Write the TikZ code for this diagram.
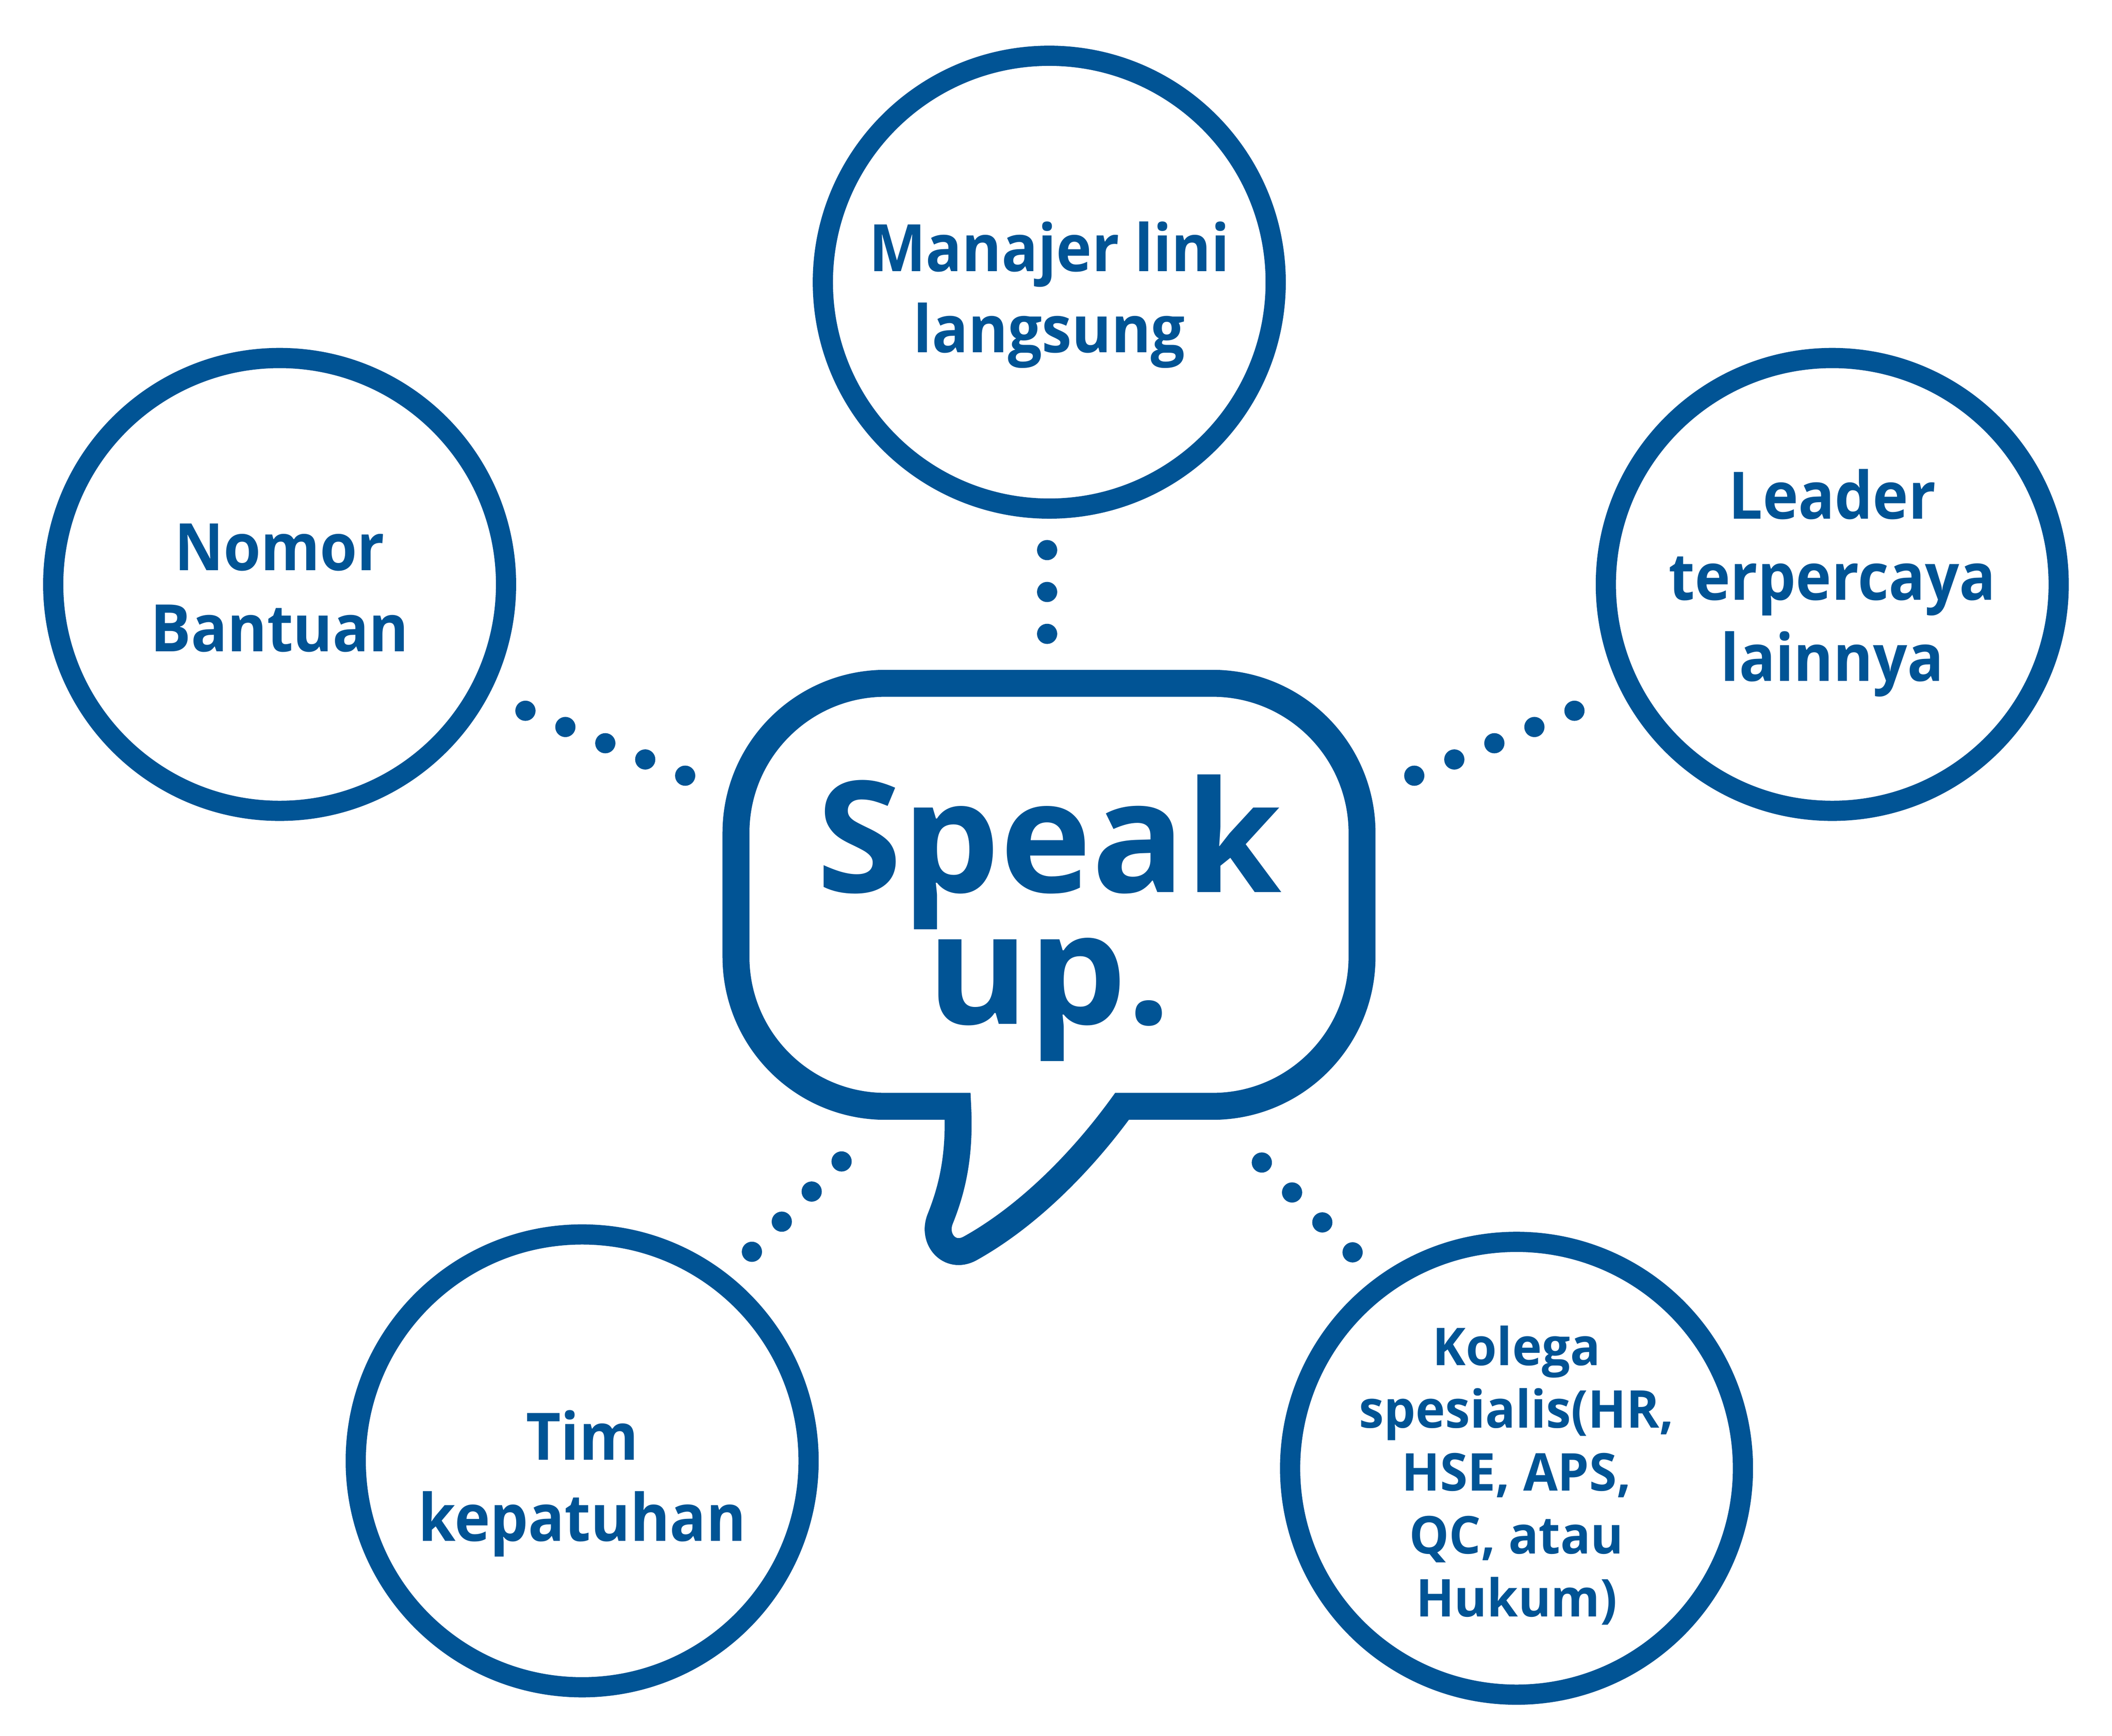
\documentclass[tikz,border=0pt]{standalone}
\usepackage{fontspec}
\setmainfont{Open Sans}
\newfontfamily\lblfont{Open Sans}[FakeStretch=0.92]
\newfontfamily\smallfont{Open Sans}[FakeStretch=0.96]
\usetikzlibrary{positioning}
\definecolor{speakblue}{RGB}{1,84,149}

\tikzset{
  ring/.style={circle, draw=speakblue, line width=15pt, minimum size=336.2pt, inner sep=0pt},
  lbl/.style={text=speakblue, align=center, inner sep=0pt,
    font=\lblfont\bfseries\fontsize{48.6}{60.2}\selectfont},
  dotrun/.style={draw=speakblue, line width=15pt, line cap=round,
    dash pattern=on 0pt off #1, shorten >=-2pt},
}

\begin{document}
\begin{tikzpicture}[x=1pt, y=-1pt]
\useasboundingbox (0,0) rectangle (1568,1288.8);

% the five contacts
\node[ring] (line) at (779,209.5) {};
\node[ring] (help) at (207.6,433.9) {};
\node[ring] (lead) at (1360.3,433.9) {};
\node[ring] (comp) at (432.2,1084.6) {};
\node[ring] (spec) at (1125.9,1090.1) {};

\node[lbl] (line-t) at ([yshift=-9.4pt]line) {Manajer lini\\langsung};
\node[lbl] (help-t) at ([yshift=-2.7pt]help) {Nomor\\Bantuan};
\node[lbl] (lead-t) at ([yshift=1pt]lead) {Leader\\terpercaya\\lainnya};
\node[lbl] (comp-t) at ([yshift=-16.8pt]comp) {Tim\\kepatuhan};
\node[lbl, font=\smallfont\bfseries\fontsize{38.7}{46.7}\selectfont] (spec-t) at ([yshift=-5.2pt]spec)
  {Kolega\\spesialis(HR,\\HSE, APS,\\QC, atau\\Hukum)};

% speech bubble
\draw[draw=speakblue, line width=20pt, fill=white]
  (546.4,618.3) arc[start angle=180, end angle=270, radius=111] -- (900.2,507.3)
  arc[start angle=270, end angle=360, radius=111] -- (1011.2,710.4)
  arc[start angle=0, end angle=90, radius=111] -- (833,821.4)
  .. controls (805,860) and (765,902) .. (720,927)
  .. controls (705,935) and (692,920) .. (698,905)
  .. controls (706,885) and (713,860) .. (711,821.4) -- (657.4,821.4)
  arc[start angle=90, end angle=180, radius=111] -- cycle;
\node[text=speakblue, align=center, inner sep=0pt,
  font=\bfseries\fontsize{115}{98}\selectfont] (speak) at (778.8,681.5) {Speak\\up.};

% dotted links
\coordinate (t1) at (777.4,408.4);  \coordinate (t2) at (777.4,470.6);
\coordinate (l1) at (390.1,527.7);  \coordinate (l2) at (508.7,575.9);
\coordinate (r1) at (1168.9,527.7); \coordinate (r2) at (1050,575.9);
\coordinate (b1) at (624.8,862.3);  \coordinate (b2) at (558.2,929.4);
\coordinate (s1) at (936.8,863.1);  \coordinate (s2) at (1004.2,929.8);
\draw[dotrun=31.1pt] (t1) -- (t2);
\draw[dotrun=32pt] (l1) -- (l2);
\draw[dotrun=32.08pt] (r1) -- (r2);
\draw[dotrun=31.5pt] (b1) -- (b2);
\draw[dotrun=31.6pt] (s1) -- (s2);
\end{tikzpicture}
\end{document}
